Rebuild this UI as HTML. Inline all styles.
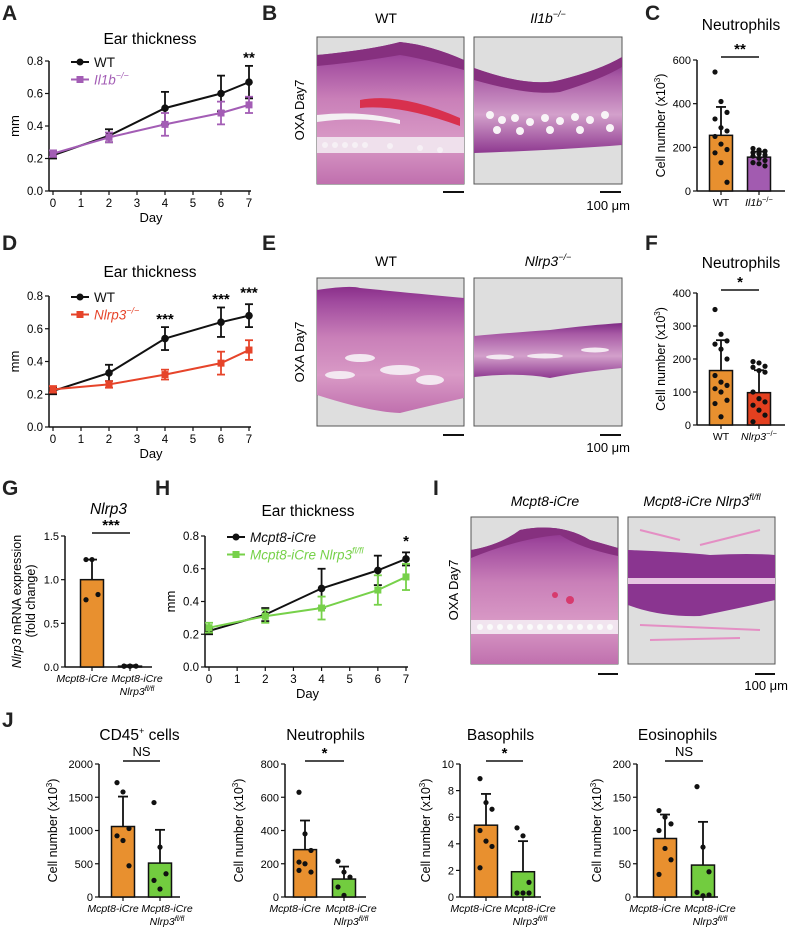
<!DOCTYPE html>
<html><head><meta charset="utf-8"><style>
html,body{margin:0;padding:0;background:#fff}
svg{display:block;font-family:"Liberation Sans",Arial,sans-serif}
</style></head><body>
<svg id="fig" width="790" height="931" viewBox="0 0 790 931" xmlns="http://www.w3.org/2000/svg">
<defs>
<linearGradient id="tis1" x1="0" y1="0" x2="0" y2="1"><stop offset="0" stop-color="#8a2f8a"/><stop offset="0.12" stop-color="#a04a9e"/><stop offset="0.4" stop-color="#c97fb8"/><stop offset="0.7" stop-color="#d99ac6"/><stop offset="1" stop-color="#c070ae"/></linearGradient>
<linearGradient id="tis2" x1="0" y1="0" x2="0" y2="1"><stop offset="0" stop-color="#7e2a85"/><stop offset="0.2" stop-color="#a85aa5"/><stop offset="0.6" stop-color="#d3a0cb"/><stop offset="1" stop-color="#8e3990"/></linearGradient>
</defs>
<g font-weight="bold" font-size="21" fill="#222">
<text x="2" y="20">A</text>
<text x="262" y="20">B</text>
<text x="645" y="20">C</text>
<text x="2" y="250">D</text>
<text x="262" y="250">E</text>
<text x="645" y="250">F</text>
<text x="2" y="495">G</text>
<text x="155" y="495">H</text>
<text x="433" y="495">I</text>
<text x="2" y="727">J</text>
</g>

<g>
<text x="386" y="23" font-size="14" text-anchor="middle">WT</text>
<text x="548" y="23" font-size="14" text-anchor="middle" font-style="italic">Il1b<tspan font-size="9" dy="-6">−/−</tspan></text>
<text transform="translate(304,110) rotate(-90)" font-size="13" text-anchor="middle">OXA Day7</text>
<g>
<rect x="317" y="37" width="147" height="147" fill="#dedede" stroke="#555"/>
<path d="M317,55 Q370,50 400,42 Q430,45 464,60 L464,184 L317,184Z" fill="url(#tis1)"/>
<path d="M317,55 Q370,50 400,42 Q430,45 464,60 L464,70 Q420,58 400,55 Q360,62 317,66Z" fill="#86307f"/>
<path d="M360,100 Q400,92 460,118 L460,126 Q400,104 360,108Z" fill="#d8304e"/>
<rect x="317" y="137" width="147" height="16" fill="#efe0ec"/>
<g fill="#f6f0f5"><circle cx="325" cy="145" r="3"/><circle cx="335" cy="145" r="3"/><circle cx="345" cy="145" r="3"/><circle cx="355" cy="145" r="3"/><circle cx="365" cy="145" r="3"/><circle cx="390" cy="146" r="3"/><circle cx="420" cy="148" r="3"/><circle cx="440" cy="150" r="3"/></g>
<path d="M317,115 Q360,110 400,120 L400,124 Q360,116 317,122Z" fill="#f4f0f3"/>
</g>
<g>
<rect x="474" y="37" width="148" height="147" fill="#dedede" stroke="#555"/>
<path d="M474,68 Q530,88 560,80 Q600,70 622,57 L622,145 Q560,150 474,153Z" fill="url(#tis2)"/>
<path d="M474,68 Q530,88 560,80 Q600,70 622,57 L622,67 Q600,80 560,92 Q530,96 474,80Z" fill="#86307f"/>
<g fill="#f8f4f7"><circle cx="490" cy="115" r="4"/><circle cx="502" cy="120" r="4"/><circle cx="515" cy="118" r="4"/><circle cx="530" cy="122" r="4"/><circle cx="545" cy="118" r="4"/><circle cx="560" cy="121" r="4"/><circle cx="575" cy="117" r="4"/><circle cx="590" cy="120" r="4"/><circle cx="605" cy="115" r="4"/><circle cx="497" cy="130" r="4"/><circle cx="520" cy="131" r="4"/><circle cx="550" cy="130" r="4"/><circle cx="580" cy="130" r="4"/><circle cx="610" cy="128" r="4"/></g>
</g>
<rect x="443" y="191" width="21" height="2" fill="#111"/>
<rect x="600" y="191" width="21" height="2" fill="#111"/>
<text x="630" y="210" font-size="13" text-anchor="end">100 μm</text>
</g>

<g>
<text x="386" y="266" font-size="14" text-anchor="middle">WT</text>
<text x="548" y="266" font-size="14" text-anchor="middle" font-style="italic">Nlrp3<tspan font-size="9" dy="-6">−/−</tspan></text>
<text transform="translate(304,352) rotate(-90)" font-size="13" text-anchor="middle">OXA Day7</text>
<g>
<rect x="317" y="278" width="147" height="148" fill="#dedede" stroke="#555"/>
<path d="M317,290 Q350,285 360,288 Q400,292 464,298 L464,398 Q420,408 400,413 Q370,412 317,395Z" fill="url(#tis1)"/>
<g fill="#f3e8f1"><ellipse cx="360" cy="358" rx="15" ry="4"/><ellipse cx="400" cy="370" rx="20" ry="5"/><ellipse cx="340" cy="375" rx="15" ry="4"/><ellipse cx="430" cy="380" rx="14" ry="5"/></g>
</g>
<g>
<rect x="474" y="278" width="148" height="148" fill="#dedede" stroke="#555"/>
<path d="M474,336 Q520,332 550,330 Q590,325 622,323 L622,368 Q580,372 550,378 Q520,372 474,377Z" fill="url(#tis2)"/>
<g fill="#f3e8f1"><ellipse cx="500" cy="357" rx="14" ry="2.5"/><ellipse cx="545" cy="356" rx="18" ry="2.5"/><ellipse cx="595" cy="350" rx="14" ry="2.5"/></g>
</g>
<rect x="443" y="434" width="21" height="2" fill="#111"/>
<rect x="600" y="434" width="21" height="2" fill="#111"/>
<text x="630" y="452" font-size="13" text-anchor="end">100 μm</text>
</g>

<g>
<text x="545" y="506" font-size="14" text-anchor="middle" font-style="italic">Mcpt8-iCre</text>
<text x="702" y="506" font-size="14" text-anchor="middle" font-style="italic">Mcpt8-iCre Nlrp3<tspan font-size="9" dy="-6">fl/fl</tspan></text>
<text transform="translate(458,590) rotate(-90)" font-size="13" text-anchor="middle">OXA Day7</text>
<g>
<rect x="471" y="517" width="147" height="147" fill="#dedede" stroke="#555"/>
<path d="M471,550 Q500,545 520,530 Q560,522 590,540 L618,548 L618,664 L471,664Z" fill="url(#tis1)"/>
<path d="M471,550 Q500,545 520,530 Q560,522 590,540 L618,548 L618,556 Q580,548 560,535 Q520,538 471,558Z" fill="#86307f"/>
<rect x="471" y="620" width="147" height="14" fill="#f1e4ef"/>
<g fill="#fafafa"><circle cx="480" cy="627" r="3"/><circle cx="490" cy="627" r="3"/><circle cx="500" cy="627" r="3"/><circle cx="510" cy="627" r="3"/><circle cx="520" cy="627" r="3"/><circle cx="530" cy="627" r="3"/><circle cx="540" cy="627" r="3"/><circle cx="550" cy="627" r="3"/><circle cx="560" cy="627" r="3"/><circle cx="570" cy="627" r="3"/><circle cx="580" cy="627" r="3"/><circle cx="590" cy="627" r="3"/><circle cx="600" cy="627" r="3"/><circle cx="610" cy="627" r="3"/></g>
<g fill="#d73a6e"><circle cx="555" cy="595" r="3"/><circle cx="570" cy="600" r="4"/></g>
</g>
<g>
<rect x="628" y="517" width="147" height="147" fill="#dedede" stroke="#555"/>
<path d="M628,550 Q680,552 710,555 Q750,553 775,555 L775,600 Q740,608 700,616 Q660,617 628,605Z" fill="#8a3590"/>
<rect x="628" y="578" width="147" height="6" fill="#e6c6e2"/>
<path d="M640,530 L680,540 M700,545 L760,530 M640,625 L760,630 M650,640 L740,638" stroke="#e48fc4" stroke-width="2" fill="none"/>
</g>
<rect x="598" y="673" width="20" height="2" fill="#111"/>
<rect x="755" y="673" width="20" height="2" fill="#111"/>
<text x="788" y="690" font-size="13" text-anchor="end">100 μm</text>
</g>
</svg>
<script>
const days = [0, 2, 4, 6, 7];
const aWT = [0.22, 0.34, 0.51, 0.60, 0.67];
const aWTerr = [0.02, 0.04, 0.10, 0.11, 0.10];
const aKO = [0.23, 0.33, 0.41, 0.48, 0.53];
const aKOerr = [0.02, 0.03, 0.07, 0.07, 0.05];
const dWT = [0.22, 0.33, 0.54, 0.64, 0.68];
const dWTerr = [0.02, 0.05, 0.07, 0.09, 0.07];
const dKO = [0.23, 0.26, 0.32, 0.39, 0.47];
const dKOerr = [0.02, 0.02, 0.03, 0.07, 0.06];
const hCtrl = [0.22, 0.32, 0.48, 0.59, 0.66];
const hCtrlErr = [0.02, 0.04, 0.12, 0.09, 0.04];
const hKO = [0.24, 0.31, 0.36, 0.47, 0.55];
const hKOerr = [0.03, 0.04, 0.07, 0.09, 0.08];
const lineTicks = [0, 0.2, 0.4, 0.6, 0.8];
const dayTicks = [0, 1, 2, 3, 4, 5, 6, 7];
const cMeans = [255, 155];
const cSD = [130, 25];
const cPtsWT = [545, 410, 360, 330, 290, 275, 250, 215, 190, 175, 130, 40];
const cPtsKO = [195, 188, 182, 176, 170, 165, 160, 150, 140, 130, 125, 115];
const fMeans = [165, 98];
const fSD = [92, 68];
const fPtsWT = [350, 275, 255, 245, 230, 200, 150, 130, 120, 110, 100, 75, 65, 25];
const fPtsKO = [192, 188, 178, 175, 165, 160, 100, 80, 70, 60, 45, 30, 10];
const gMeans = [1.0, 0.01];
const gSD = [0.23, 0.01];
const gPtsA = [1.23, 1.23, 0.83, 0.77];
const gPtsB = [0.01, 0.01, 0.01, 0.01, 0.01];
const j1Means = [1060, 510];
const j1SD = [450, 500];
const j1PtsA = [1720, 1580, 1030, 920, 850, 470];
const j1PtsB = [1420, 750, 350, 250, 120];
const j2Means = [285, 108];
const j2SD = [175, 75];
const j2PtsA = [630, 380, 280, 210, 200, 150, 160];
const j2PtsB = [215, 150, 120, 60, 10];
const j3Means = [5.4, 1.9];
const j3SD = [2.35, 2.3];
const j3PtsA = [8.9, 7.1, 6.6, 5.0, 4.2, 3.8, 2.2];
const j3PtsB = [5.2, 4.6, 1.1, 0.3, 0.3, 0.3];
const j4Means = [88, 48];
const j4SD = [36, 65];
const j4PtsA = [130, 120, 110, 100, 73, 56, 34];
const j4PtsB = [166, 75, 38, 7, 2, 3];

const svg = document.getElementById('fig');
const NS = 'http://www.w3.org/2000/svg';
function mk(tag, attrs, parent) {
  const e = document.createElementNS(NS, tag);
  for (const k in attrs) e.setAttribute(k, attrs[k]);
  (parent || svg).appendChild(e);
  return e;
}
function txt(s, attrs, parent, name) {
  const t = mk('text', attrs, parent);
  t.textContent = s;
  
  
  return t;
}

function lineChart(o) {
  const g = mk('g', {});
  
  
  const xs = d => o.x0 + (o.x7 - o.x0) * d / 7;
  const ys = v => o.yb + (o.yt - o.yb) * v / 0.8;
  const ax = o.x0 - 4;
  const yAxis = mk('line', {x1: ax, y1: o.yt, x2: ax, y2: o.yb, stroke: '#111', 'stroke-width': 1.5}, g);
  
  
  const xAxis = mk('line', {x1: ax, y1: o.yb, x2: o.x7 + 2, y2: o.yb, stroke: '#111', 'stroke-width': 1.5}, g);
  
  
  lineTicks.forEach(v => {
    mk('line', {x1: ax - 4, y1: ys(v), x2: ax, y2: ys(v), stroke: '#111', 'stroke-width': 1.2}, g);
    txt(v.toFixed(1), {x: ax - 6, y: ys(v) + 4, 'font-size': 11.5, 'text-anchor': 'end'}, g, 'y-tick-label');
  });
  dayTicks.forEach(d => {
    mk('line', {x1: xs(d), y1: o.yb, x2: xs(d), y2: o.yb + 4, stroke: '#111', 'stroke-width': 1.2}, g);
    txt(String(d), {x: xs(d), y: o.yb + 16, 'font-size': 11.5, 'text-anchor': 'middle'}, g, 'x-tick-label');
  });
  txt('Day', {x: (o.x0 + o.x7) / 2, y: o.yb + 31, 'font-size': 13, 'text-anchor': 'middle'}, g, 'x-axis-title');
  txt('mm', {transform: `translate(${ax - 30},${(o.yt + o.yb) / 2}) rotate(-90)`, 'font-size': 13, 'text-anchor': 'middle'}, g, 'y-axis-title');
  txt('Ear thickness', {x: o.titleX, y: o.titleY, 'font-size': 15.5, 'text-anchor': 'middle'}, g, 'chart-title');
  o.series.forEach((s, si) => {
    const sg = mk('g', {}, g);
    
    
    const pts = days.map((d, i) => xs(d) + ',' + ys(s.vals[i])).join(' ');
    mk('polyline', {points: pts, fill: 'none', stroke: s.color, 'stroke-width': 2}, sg);
    days.forEach((d, i) => {
      const x = xs(d), y1 = ys(s.vals[i] + s.errs[i]), y2 = ys(s.vals[i] - s.errs[i]);
      mk('line', {x1: x, y1: y1, x2: x, y2: y2, stroke: s.color, 'stroke-width': 1.8}, sg);
      mk('line', {x1: x - 4, y1: y1, x2: x + 4, y2: y1, stroke: s.color, 'stroke-width': 1.8}, sg);
      mk('line', {x1: x - 4, y1: y2, x2: x + 4, y2: y2, stroke: s.color, 'stroke-width': 1.8}, sg);
      let m;
      if (s.square) m = mk('rect', {x: x - 3.5, y: ys(s.vals[i]) - 3.5, width: 7, height: 7, fill: s.color}, sg);
      else m = mk('circle', {cx: x, cy: ys(s.vals[i]), r: 3.8, fill: s.color}, sg);
      
      
    });
    const ly = o.yt + 1 + si * 17.5, lx = o.x0 + 18;
    const lg = mk('g', {}, g);
    
    
    mk('line', {x1: lx, y1: ly, x2: lx + 18, y2: ly, stroke: s.color, 'stroke-width': 2}, lg);
    if (s.square) mk('rect', {x: lx + 5.5, y: ly - 3.5, width: 7, height: 7, fill: s.color}, lg);
    else mk('circle', {cx: lx + 9, cy: ly, r: 3.5, fill: s.color}, lg);
    const t = txt('', {x: lx + 23, y: ly + 5, 'font-size': 13.5, fill: si ? s.color : '#111', 'font-style': s.italic ? 'italic' : 'normal'}, lg, 'legend-label');
    t.innerHTML = s.label;
  });
  o.stars.forEach(st => {
    txt(st[1], {x: xs(st[0]), y: ys(st[2]), 'font-size': 15, 'font-weight': 'bold', 'text-anchor': 'middle'}, g, 'significance-stars');
  });
}

lineChart({name: 'chart-a', x0: 53, x7: 249, yt: 61, yb: 191, titleX: 150, titleY: 44,
  series: [{name: 'series-wt', vals: aWT, errs: aWTerr, color: '#111', label: 'WT'},
           {name: 'series-il1b-ko', vals: aKO, errs: aKOerr, color: '#a35db5', square: true, italic: true, label: 'Il1b<tspan font-size="9" dy="-6">−/−</tspan>'}],
  stars: [[7, '**', 0.79]]});
lineChart({name: 'chart-d', x0: 53, x7: 249, yt: 296, yb: 427, titleX: 150, titleY: 277,
  series: [{name: 'series-wt', vals: dWT, errs: dWTerr, color: '#111', label: 'WT'},
           {name: 'series-nlrp3-ko', vals: dKO, errs: dKOerr, color: '#e6442a', square: true, italic: true, label: 'Nlrp3<tspan font-size="9" dy="-6">−/−</tspan>'}],
  stars: [[4, '***', 0.63], [6, '***', 0.75], [7, '***', 0.79]]});
lineChart({name: 'chart-h', x0: 209, x7: 406, yt: 536, yb: 667, titleX: 308, titleY: 516,
  series: [{name: 'series-mcpt8-icre', vals: hCtrl, errs: hCtrlErr, color: '#111', italic: true, label: 'Mcpt8-iCre'},
           {name: 'series-mcpt8-nlrp3-flfl', vals: hKO, errs: hKOerr, color: '#77d14a', square: true, italic: true, label: 'Mcpt8-iCre Nlrp3<tspan font-size="9" dy="-6">fl/fl</tspan>'}],
  stars: [[7, '*', 0.74]]});

function barChart(o) {
  const g = mk('g', {});
  
  
  const ys = v => o.yb + (o.yt - o.yb) * v / o.ymax;
  const yAxis = mk('line', {x1: o.ax, y1: o.yt, x2: o.ax, y2: o.yb, stroke: '#111', 'stroke-width': 1.5}, g);
  
  
  const xAxis = mk('line', {x1: o.ax, y1: o.yb, x2: o.xend, y2: o.yb, stroke: '#111', 'stroke-width': 1.5}, g);
  
  
  o.ticks.forEach(v => {
    mk('line', {x1: o.ax - 4, y1: ys(v), x2: o.ax, y2: ys(v), stroke: '#111', 'stroke-width': 1.2}, g);
    txt(o.fmt ? o.fmt(v) : String(v), {x: o.ax - 6, y: ys(v) + 4, 'font-size': 11, 'text-anchor': 'end'}, g, 'y-tick-label');
  });
  const yt = txt('', {transform: `translate(${o.ax - o.ytOff},${(o.yt + o.yb) / 2}) rotate(-90)`, 'font-size': 12.5, 'text-anchor': 'middle'}, g, 'y-axis-title');
  yt.innerHTML = o.ytitle;
  const tt = txt('', {x: (o.ax + o.xend) / 2, y: o.titleY, 'font-size': 15.5, 'text-anchor': 'middle', 'font-style': o.titleItalic ? 'italic' : 'normal'}, g, 'chart-title');
  tt.innerHTML = o.title;
  const shift = o.labelShift || [0, 0];
  o.centers.forEach((cx, i) => {
    const b = mk('rect', {x: cx - 11.5, y: ys(o.means[i]), width: 23, height: o.yb - ys(o.means[i]), fill: o.colors[i], stroke: '#111', 'stroke-width': 1.5}, g);
    
    
    const et = ys(o.means[i] + o.sd[i]);
    mk('line', {x1: cx, y1: et, x2: cx, y2: ys(o.means[i]), stroke: '#111', 'stroke-width': 1.8}, g);
    mk('line', {x1: cx - 5, y1: et, x2: cx + 5, y2: et, stroke: '#111', 'stroke-width': 1.8}, g);
    mk('line', {x1: cx, y1: o.yb, x2: cx, y2: o.yb + 4, stroke: '#111', 'stroke-width': 1.2}, g);
    o.pts[i].forEach((v, k) => {
      const p = mk('circle', {cx: cx + ((k % 3) - 1) * 6, cy: ys(v), r: 2.6, fill: '#111'}, g);
      
      
    });
    const xl = txt('', {x: cx + shift[i], y: o.yb + 15, 'font-size': 10.5, 'text-anchor': 'middle', 'font-style': o.xItalic ? 'italic' : 'normal'}, g, 'x-tick-label');
    xl.innerHTML = o.xlabels[i];
    if (o.xlabels2 && o.xlabels2[i]) {
      const x2 = txt('', {x: cx + shift[i], y: o.yb + 28, 'font-size': 10.5, 'text-anchor': 'middle', 'font-style': 'italic'}, g, 'x-tick-label-2');
      x2.innerHTML = o.xlabels2[i];
    }
  });
  const sy = o.yt - 3;
  const sb = mk('line', {x1: o.centers[0], y1: sy, x2: o.centers[1], y2: sy, stroke: '#111', 'stroke-width': 1.6}, g);
  
  
  txt(o.sig, {x: (o.centers[0] + o.centers[1]) / 2, y: o.sig === 'NS' ? sy - 5 : sy - 3, 'font-size': o.sig === 'NS' ? 13 : 15, 'font-weight': o.sig === 'NS' ? 'normal' : 'bold', 'text-anchor': 'middle'}, g, 'significance-label');
}
const ORANGE = '#e8902f', PURPLE = '#a25bb0', RED = '#e3401f', GREEN = '#72cc3f';
const cellTitle = 'Cell number (x10<tspan font-size="8" dy="-5">3</tspan><tspan dy="5">)</tspan>';
const flfl = 'Nlrp3<tspan font-size="7.5" dy="-4">fl/fl</tspan>';
barChart({name: 'chart-c', ax: 697, xend: 785, yt: 60, yb: 191, ymax: 600, ticks: [0, 200, 400, 600], centers: [721, 759],
  means: cMeans, sd: cSD, pts: [cPtsWT, cPtsKO], colors: [ORANGE, PURPLE], ytitle: cellTitle, ytOff: 32, title: 'Neutrophils', titleY: 30,
  xlabels: ['WT', '<tspan font-style="italic">Il1b</tspan><tspan font-size="7.5" dy="-4">−/−</tspan>'], sig: '**'});
barChart({name: 'chart-f', ax: 697, xend: 785, yt: 293, yb: 425, ymax: 400, ticks: [0, 100, 200, 300, 400], centers: [721, 759],
  means: fMeans, sd: fSD, pts: [fPtsWT, fPtsKO], colors: [ORANGE, RED], ytitle: cellTitle, ytOff: 32, title: 'Neutrophils', titleY: 268,
  xlabels: ['WT', '<tspan font-style="italic">Nlrp3</tspan><tspan font-size="7.5" dy="-4">−/−</tspan>'], sig: '*'});
barChart({name: 'chart-g', ax: 65, xend: 152, yt: 536, yb: 667, ymax: 1.5, ticks: [0, 0.5, 1.0, 1.5], fmt: v => v.toFixed(1), centers: [92, 130],
  means: gMeans, sd: gSD, pts: [gPtsA, gPtsB], colors: [ORANGE, GREEN], xItalic: true, labelShift: [-10, 7],
  ytitle: '<tspan font-style="italic">Nlrp3</tspan> mRNA expression', ytOff: 44, title: 'Nlrp3', titleItalic: true, titleY: 514,
  xlabels: ['Mcpt8-iCre', 'Mcpt8-iCre'], xlabels2: [null, flfl], sig: '***'});
txt('(fold change)', {transform: 'translate(35,601) rotate(-90)', 'font-size': 12.5, 'text-anchor': 'middle'}, svg, 'y-axis-title-2');
const jCommon = {yt: 764, yb: 897, ytitle: cellTitle, ytOff: 42, titleY: 740, xlabels: ['Mcpt8-iCre', 'Mcpt8-iCre'], xlabels2: [null, flfl], colors: [ORANGE, GREEN], xItalic: true, labelShift: [-10, 7]};
barChart(Object.assign({}, jCommon, {name: 'chart-j-cd45', ax: 99, xend: 180, ymax: 2000, ticks: [0, 500, 1000, 1500, 2000], centers: [123, 160],
  means: j1Means, sd: j1SD, pts: [j1PtsA, j1PtsB], title: 'CD45<tspan font-size="9" dy="-6">+</tspan><tspan dy="6"> cells</tspan>', sig: 'NS'}));
barChart(Object.assign({}, jCommon, {name: 'chart-j-neutrophils', ax: 285, xend: 366, ymax: 800, ticks: [0, 200, 400, 600, 800], centers: [305, 344],
  means: j2Means, sd: j2SD, pts: [j2PtsA, j2PtsB], title: 'Neutrophils', sig: '*'}));
barChart(Object.assign({}, jCommon, {name: 'chart-j-basophils', ax: 460, xend: 541, ymax: 10, ticks: [0, 2, 4, 6, 8, 10], centers: [486, 523], ytOff: 30,
  means: j3Means, sd: j3SD, pts: [j3PtsA, j3PtsB], title: 'Basophils', sig: '*'}));
barChart(Object.assign({}, jCommon, {name: 'chart-j-eosinophils', ax: 637, xend: 718, ymax: 200, ticks: [0, 50, 100, 150, 200], centers: [665, 703], ytOff: 36,
  means: j4Means, sd: j4SD, pts: [j4PtsA, j4PtsB], title: 'Eosinophils', sig: 'NS'}));
</script>
</body></html>
